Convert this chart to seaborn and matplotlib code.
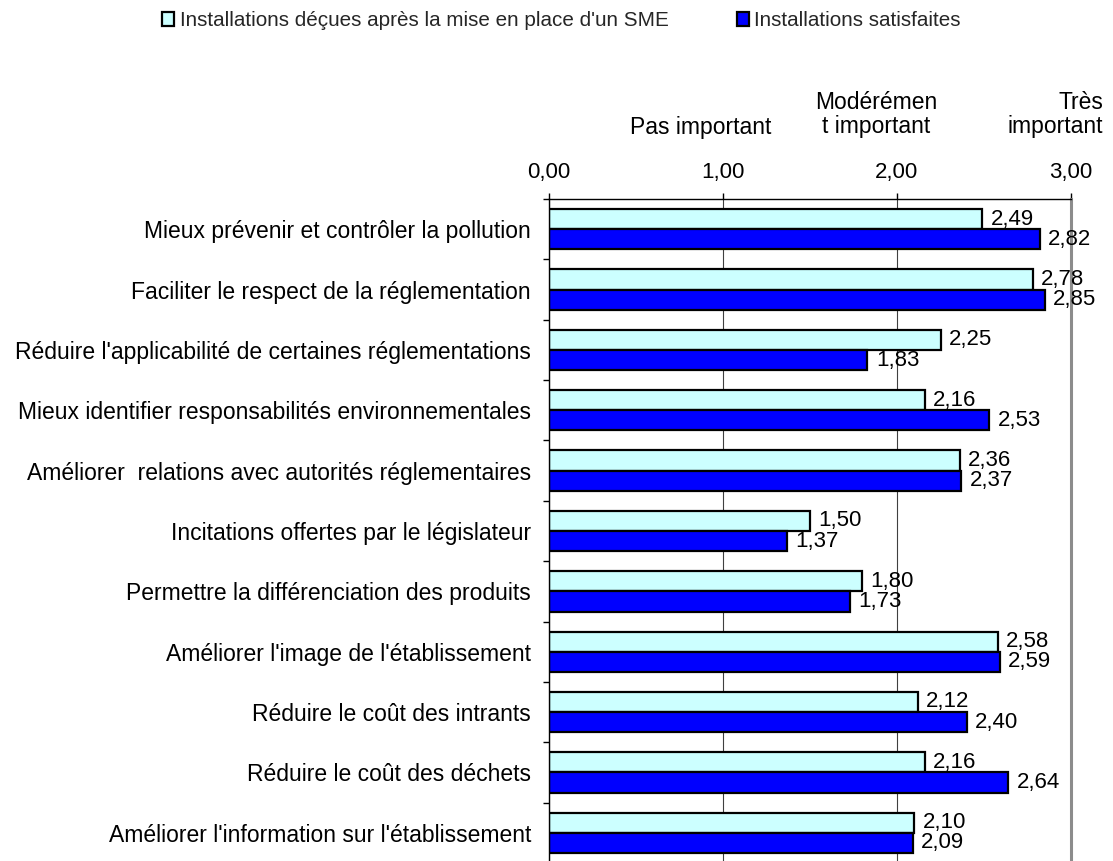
import matplotlib
matplotlib.use("Agg")
import matplotlib.pyplot as plt
import seaborn as sns
import pandas as pd

categories = [
    "Mieux prévenir et contrôler la pollution",
    "Faciliter le respect de la réglementation",
    "Réduire l'applicabilité de certaines réglementations",
    "Mieux identifier responsabilités environnementales",
    "Améliorer  relations avec autorités réglementaires",
    "Incitations offertes par le législateur",
    "Permettre la différenciation des produits",
    "Améliorer l'image de l'établissement",
    "Réduire le coût des intrants",
    "Réduire le coût des déchets",
    "Améliorer l'information sur l'établissement",
]
series_names = ["Installations déçues après la mise en place d'un SME",
                "Installations satisfaites"]
decues = [2.49, 2.78, 2.25, 2.16, 2.36, 1.50, 1.80, 2.58, 2.12, 2.16, 2.10]
satisfaites = [2.82, 2.85, 1.83, 2.53, 2.37, 1.37, 1.73, 2.59, 2.40, 2.64, 2.09]
x_ticks = [0, 1, 2, 3]
x_tick_labels = ["0,00", "1,00", "2,00", "3,00"]
colors = ["#CCFFFF", "#0000FF"]

df = pd.DataFrame({
    "cat": categories * 2,
    "val": decues + satisfaites,
    "serie": [series_names[0]] * len(categories) + [series_names[1]] * len(categories),
})

sns.set_style("white")
plt.rcParams["font.family"] = ["Liberation Sans", "DejaVu Sans"]
FS_CAT = 16.5
FS_NUM = 16
FS_LEG = 14.9

W, H = 1113, 861
fig = plt.figure(figsize=(W / 100, H / 100), dpi=100)
L, R, T, B = 549, 1071, 199, 863
ax = fig.add_axes([L / W, 1 - B / H, (R - L) / W, (B - T) / H])

sns.barplot(data=df, y="cat", x="val", hue="serie", orient="h",
            hue_order=series_names, order=categories,
            palette=colors, width=0.67, edgecolor="black", linewidth=1.6,
            errorbar=None, saturation=1, ax=ax)

handles, labels = ax.get_legend_handles_labels()
if ax.get_legend() is not None:
    ax.get_legend().remove()

for cont in ax.containers:
    vals = [b.get_width() for b in cont]
    ax.bar_label(cont, labels=[f"{v:.2f}".replace(".", ",") for v in vals],
                 padding=6, fontsize=FS_NUM, color="black")

ax.set_xlim(0, 3)
ax.set_ylim(len(categories) - 0.5, -0.5)
ax.set_xlabel("")
ax.set_ylabel("")

ax.xaxis.tick_top()
ax.set_xticks(x_ticks)
ax.set_xticklabels(x_tick_labels, fontsize=FS_NUM)
ax.tick_params(axis="x", top=True, bottom=False, direction="out", length=4.3,
               width=1, color="black", pad=7, labelcolor="black")

ax.set_yticks(range(len(categories)))
ax.set_yticklabels(categories, fontsize=FS_CAT)
ax.set_yticks([i - 0.5 for i in range(len(categories) + 1)], minor=True)
ax.tick_params(axis="y", which="major", left=True, length=0, pad=13, labelcolor="black")
ax.tick_params(axis="y", which="minor", left=True, length=4.3, width=1, color="black")

ax.set_axisbelow(True)
ax.grid(axis="x", color="#404040", linewidth=0.8)
ax.grid(axis="y", visible=False)

for s in ["top", "left"]:
    ax.spines[s].set_color("black")
    ax.spines[s].set_linewidth(1.0)
    ax.spines[s].set_visible(True)
ax.spines["right"].set_color("#8c8c8c")
ax.spines["right"].set_linewidth(2.2)
ax.spines["right"].set_visible(True)
ax.spines["bottom"].set_visible(False)

# header annotations
def ftext(x, y, s, ha):
    fig.text(x / W, 1 - y / H, s, ha=ha, va="baseline", fontsize=FS_CAT, color="black")

ftext(701, 134, "Pas important", "center")
ftext(876, 109, "Modérémen", "center")
ftext(876, 133, "t important", "center")
ftext(1103, 109, "Très", "right")
ftext(1103, 133, "important", "right")

fig.legend(handles, labels, loc="center left", bbox_to_anchor=(162 / W, 1 - 21 / H),
           ncol=2, frameon=False, fontsize=FS_LEG, handlelength=0.6, handleheight=0.65,
           handletextpad=0.25, columnspacing=3.3, borderpad=0, borderaxespad=0)

fig.savefig("out.png", dpi=100)
